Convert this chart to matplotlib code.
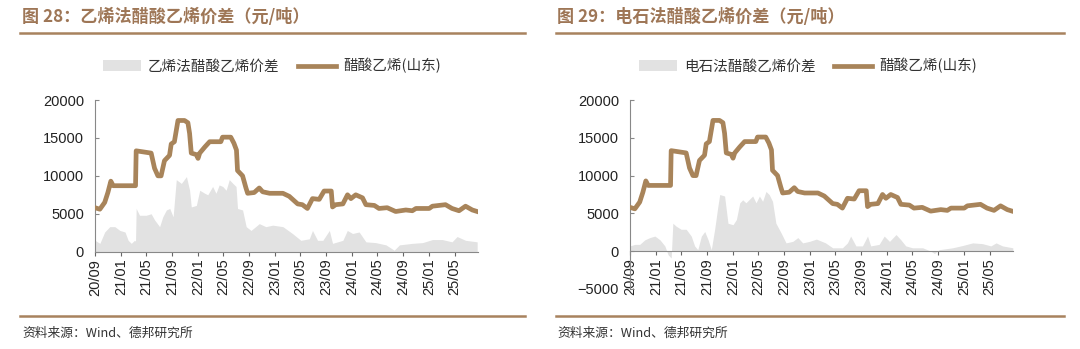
import matplotlib
matplotlib.use("Agg")
import matplotlib.pyplot as plt
import matplotlib.dates as mdates
from matplotlib.lines import Line2D
from matplotlib.patches import Patch
import pandas as pd

plt.rcParams['font.family'] = ['Noto Sans CJK SC', 'DejaVu Sans']

# 醋酸乙烯(山东) price, both panels
price_dates = [
    "2020-09-01", "2020-09-24", "2020-10-17", "2020-11-01", "2020-11-15", "2020-11-26",
    "2021-03-12", "2021-03-15", "2021-05-25", "2021-06-10", "2021-06-26", "2021-07-11",
    "2021-07-27", "2021-08-20", "2021-08-28", "2021-09-12", "2021-09-29", "2021-10-30",
    "2021-11-15", "2021-11-23", "2021-12-01", "2021-12-25", "2022-01-02", "2022-01-10",
    "2022-02-03", "2022-02-26", "2022-04-20", "2022-04-28", "2022-06-06", "2022-06-21",
    "2022-07-03", "2022-07-08", "2022-08-01", "2022-08-17", "2022-08-25", "2022-09-25",
    "2022-10-19", "2022-11-04", "2022-12-07", "2023-02-08", "2023-03-10", "2023-04-19",
    "2023-05-11", "2023-06-04", "2023-06-28", "2023-07-30", "2023-08-22", "2023-09-25",
    "2023-10-01", "2023-10-16", "2023-11-19", "2023-12-11", "2023-12-27", "2024-01-19",
    "2024-02-20", "2024-03-07", "2024-04-16", "2024-05-08", "2024-06-16", "2024-07-26",
    "2024-09-12", "2024-10-13", "2024-10-30", "2025-01-01", "2025-01-16", "2025-03-19",
    "2025-04-19", "2025-05-22", "2025-06-22", "2025-07-24", "2025-08-16",
]
price = [
    5800, 5600, 6500, 7800, 9300, 8700,
    8700, 13300, 13000, 11000, 10000, 10000,
    12000, 12700, 14200, 14500, 17300, 17300,
    17000, 15600, 13000, 12800, 12300, 13000,
    13800, 14500, 14500, 15100, 15100, 14300,
    13400, 10700, 10000, 8400, 7700, 7800,
    8400, 7900, 7700, 7700, 7300, 6300,
    6200, 5700, 7000, 6900, 8000, 8000,
    5900, 6200, 6300, 7500, 7000, 7500,
    7100, 6200, 6100, 5700, 5800, 5300,
    5500, 5400, 5700, 5700, 6000, 6200,
    5700, 5400, 6000, 5500, 5300,
]

# 乙烯法醋酸乙烯价差
eth_dates = [
    "2020-09-01", "2020-09-24", "2020-10-17", "2020-11-10", "2020-12-04", "2020-12-28",
    "2021-01-21", "2021-02-05", "2021-02-20", "2021-03-07", "2021-03-12", "2021-03-15",
    "2021-03-31", "2021-05-01", "2021-05-25", "2021-06-10", "2021-07-04", "2021-07-19",
    "2021-08-05", "2021-08-21", "2021-09-06", "2021-09-21", "2021-10-15", "2021-11-08",
    "2021-11-23", "2021-12-01", "2021-12-25", "2022-01-10", "2022-02-03", "2022-02-17",
    "2022-03-12", "2022-03-28", "2022-04-12", "2022-04-29", "2022-05-15", "2022-05-30",
    "2022-06-16", "2022-07-01", "2022-07-08", "2022-08-01", "2022-08-18", "2022-09-10",
    "2022-10-19", "2022-11-19", "2022-12-22", "2023-02-08", "2023-03-25", "2023-05-04",
    "2023-06-13", "2023-06-28", "2023-07-22", "2023-08-16", "2023-09-16", "2023-10-01",
    "2023-11-19", "2023-12-10", "2024-01-04", "2024-02-04", "2024-03-07", "2024-04-22",
    "2024-06-10", "2024-07-19", "2024-08-13", "2024-10-13", "2024-12-01", "2025-01-16",
    "2025-03-04", "2025-04-19", "2025-05-13", "2025-06-22", "2025-08-16",
]
eth_spread = [
    1500, 1100, 2600, 3300, 3300, 2800,
    2600, 1500, 1100, 1500, 1400, 5700,
    4800, 4800, 5000, 4200, 3300, 4600,
    5500, 5700, 4600, 9500, 9000, 9900,
    8100, 5900, 6100, 8100, 7700, 7500,
    8600, 7700, 8800, 8600, 8100, 9500,
    9000, 8600, 5700, 5500, 3300, 2800,
    3700, 3300, 3500, 3300, 2400, 1500,
    1700, 2800, 1500, 1500, 2800, 1100,
    1500, 2800, 2400, 2600, 1300, 1200,
    900, 200, 900, 1100, 1200, 1600,
    1600, 1300, 2000, 1500, 1300,
]

# 电石法醋酸乙烯价差
carb_dates = [
    "2020-09-01", "2020-09-24", "2020-10-17", "2020-11-10", "2020-12-04", "2020-12-28",
    "2021-01-21", "2021-02-13", "2021-02-28", "2021-03-15", "2021-03-23", "2021-04-08",
    "2021-05-01", "2021-05-25", "2021-06-18", "2021-07-04", "2021-07-19", "2021-08-05",
    "2021-08-21", "2021-09-06", "2021-09-21", "2021-10-07", "2021-10-22", "2021-10-31",
    "2021-11-23", "2021-12-09", "2022-01-02", "2022-01-18", "2022-02-03", "2022-02-17",
    "2022-03-04", "2022-04-05", "2022-04-21", "2022-05-07", "2022-05-22", "2022-06-07",
    "2022-06-22", "2022-07-08", "2022-07-24", "2022-08-18", "2022-09-10", "2022-10-12",
    "2022-11-05", "2022-11-28", "2022-12-30", "2023-02-01", "2023-03-16", "2023-04-19",
    "2023-06-04", "2023-06-28", "2023-07-13", "2023-08-07", "2023-09-07", "2023-10-01",
    "2023-10-16", "2023-11-25", "2023-12-19", "2024-01-13", "2024-02-13", "2024-03-07",
    "2024-03-30", "2024-05-01", "2024-06-18", "2024-07-27", "2024-08-13", "2024-09-04",
    "2024-11-07", "2024-12-24", "2025-02-10", "2025-03-28", "2025-05-07", "2025-06-01",
    "2025-07-01", "2025-08-19",
]
carb_spread = [
    700, 900, 900, 1500, 1800, 2000,
    1500, 700, -450, -900, 3700, 3300,
    2900, 2900, 2000, 700, 200, 2000,
    2600, 1500, 200, 2900, 5900, 7500,
    7300, 3700, 3500, 4200, 6400, 6800,
    6400, 7300, 6400, 7300, 6600, 7900,
    7500, 6600, 3700, 2400, 1100, 1300,
    1800, 1100, 1300, 1600, 1100, 450,
    450, 1100, 2000, 700, 700, 2000,
    700, 900, 2000, 1300, 2200, 1500,
    700, 450, 450, 0, -300, 200,
    450, 750, 1100, 1000, 700, 1100,
    700, 450,
]

titles = ["图 28：乙烯法醋酸乙烯价差（元/吨）", "图 29：电石法醋酸乙烯价差（元/吨）"]
spread_names = ["乙烯法醋酸乙烯价差", "电石法醋酸乙烯价差"]
line_name = "醋酸乙烯(山东)"
source = "资料来源：Wind、德邦研究所"

LINE_C = "#A8845A"
FILL_C = "#E2E2E2"
TITLE_C = "#9E7656"
RULE_C = "#A8825E"
TEXT_C = "#222222"

fig = plt.figure(figsize=(10.8, 3.49), dpi=100)
W, H = 1080, 349

def fx(px):
    return px / W

def fy(py):
    return 1 - py / H

panels = [
    dict(x0=95, x1=478, top=100, bottom=251.7, ylim=(0, 20000), dates=eth_dates,
         spread=eth_spread, title_x=22, rule=(20, 525), legend_x=272),
    dict(x0=630, x1=1013, top=100, bottom=289, ylim=(-5000, 20000), dates=carb_dates,
         spread=carb_spread, title_x=557, rule=(556, 1064), legend_x=808),
]

p_dates = pd.to_datetime(price_dates)
ticks = pd.date_range("2020-09-01", "2025-05-01", freq="4MS")

for i, p in enumerate(panels):
    ax = fig.add_axes([fx(p["x0"]), fy(p["bottom"]), fx(p["x1"] - p["x0"]),
                       (p["bottom"] - p["top"]) / H])
    sd = pd.to_datetime(p["dates"])
    ax.fill_between(sd, p["spread"], 0, color=FILL_C, lw=0, zorder=1)
    ax.plot(p_dates, price, color=LINE_C, lw=3.4, solid_joinstyle="round", zorder=3)

    ax.set_ylim(*p["ylim"])
    ax.set_yticks(range(p["ylim"][0], 20001, 5000))
    ax.set_xlim(pd.Timestamp("2020-09-01"), pd.Timestamp("2025-08-20"))
    ax.set_xticks(ticks)
    ax.xaxis.set_major_formatter(mdates.DateFormatter("%y/%m"))

    for s in ["top", "right"]:
        ax.spines[s].set_visible(False)
    ax.spines["left"].set_color("#888888")
    ax.spines["bottom"].set_color("#888888")
    ax.spines["left"].set_linewidth(0.8)
    ax.spines["bottom"].set_linewidth(0.8)
    ax.spines["bottom"].set_position(("data", 0))

    ax.tick_params(axis="y", length=3, width=0.8, color="#888888", direction="in",
                   labelsize=10.5, labelcolor=TEXT_C, pad=8)
    ax.tick_params(axis="x", length=3, width=0.8, color="#666666", direction="out",
                   labelsize=10.5, labelcolor=TEXT_C, pad=2, labelrotation=90)
    for lab in ax.get_xticklabels() + ax.get_yticklabels():
        lab.set_family(["Liberation Sans", "DejaVu Sans"])
    for lab in ax.get_xticklabels():
        lab.set_va("top")

    handles = [Patch(facecolor=FILL_C, edgecolor="none"),
               Line2D([], [], color=LINE_C, lw=3.4)]
    ax.legend(handles, [spread_names[i], line_name], loc="center",
              bbox_to_anchor=(fx(p["legend_x"]), fy(66)), bbox_transform=fig.transFigure,
              ncol=2, frameon=False, fontsize=10.5, handlelength=2.6, handletextpad=0.5,
              columnspacing=1.3, labelcolor="#333333")

    fig.text(fx(p["title_x"]), fy(17), titles[i], fontsize=12.3, fontweight="bold",
             color=TITLE_C, va="center", ha="left")
    fig.add_artist(Line2D([fx(p["rule"][0]), fx(p["rule"][1])], [fy(33), fy(33)],
                          color=RULE_C, lw=1.8))
    fig.add_artist(Line2D([fx(p["rule"][0]), fx(p["rule"][1])], [fy(316), fy(316)],
                          color=RULE_C, lw=1.8))
    fig.text(fx(p["title_x"]), fy(333), source, fontsize=9.2, color="#333333",
             va="center", ha="left")

fig.savefig("out.png", dpi=100, facecolor="white")
